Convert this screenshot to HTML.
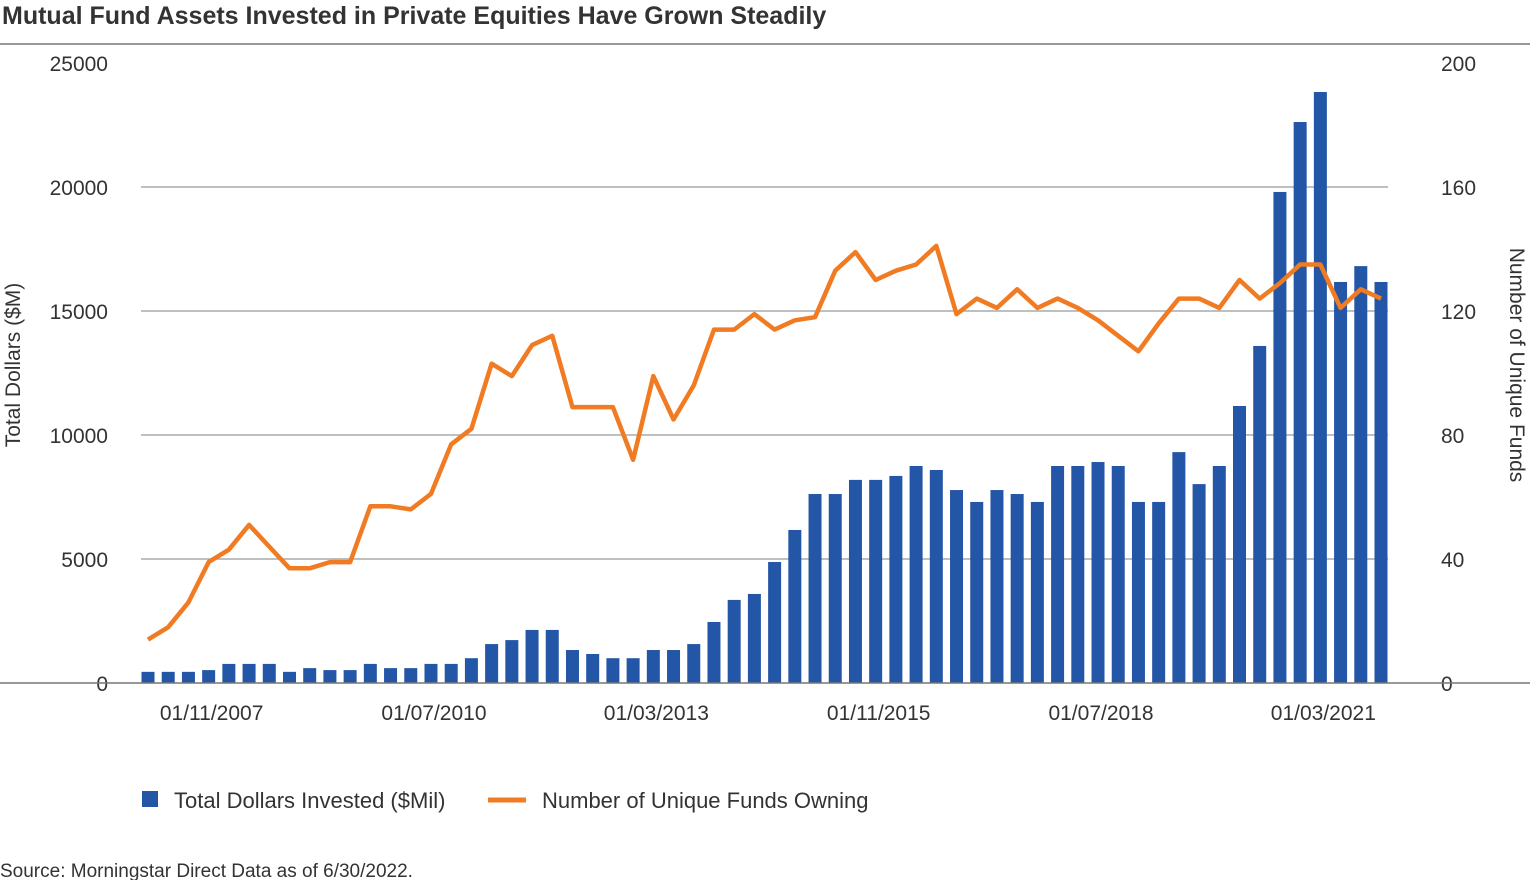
<!DOCTYPE html>
<html><head><meta charset="utf-8"><style>
body{margin:0;background:#fff;font-family:"Liberation Sans Narrow","Liberation Sans",sans-serif;}
svg text{font-family:"Liberation Sans Narrow","Liberation Sans",sans-serif;fill:#333;}
</style></head><body>
<svg width="1530" height="880" xmlns="http://www.w3.org/2000/svg">
<text x="2" y="24" font-size="25" font-weight="bold" fill="#222">Mutual Fund Assets Invested in Private Equities Have Grown Steadily</text>
<line x1="0" y1="44" x2="1530" y2="44" stroke="#777" stroke-width="1.5"/>
<g id="grid"></g><g id="bars"></g><g id="line"></g><g id="axes"></g>
<text transform="translate(20,365) rotate(-90)" text-anchor="middle" font-size="21">Total Dollars ($M)</text>
<text transform="translate(1510,365) rotate(90)" text-anchor="middle" font-size="21">Number of Unique Funds</text>
<rect x="142" y="791" width="16" height="16" fill="#2356a6"/>
<text x="174" y="808" font-size="22">Total Dollars Invested ($Mil)</text>
<line x1="488" y1="800" x2="526" y2="800" stroke="#f07b22" stroke-width="5"/>
<text x="542" y="808" font-size="22">Number of Unique Funds Owning</text>
<text x="0" y="877" font-size="19">Source: Morningstar Direct Data as of 6/30/2022.</text>
</svg>
<script>
const dollars=[450,450,450,520,770,770,770,450,600,520,520,770,600,600,770,770,1000,1570,1730,2140,2140,1330,1170,1000,1000,1330,1330,1570,2460,3350,3590,4880,6170,7620,7620,8190,8190,8350,8750,8590,7780,7300,7780,7620,7300,8750,8750,8910,8750,7300,7300,9310,8020,8750,11170,13590,19800,22620,23830,16170,16810,16170];
const funds=[14,18,26,39,43,51,44,37,37,39,39,57,57,56,61,77,82,103,99,109,112,89,89,89,72,99,85,96,114,114,119,114,117,118,133,139,130,133,135,141,119,124,121,127,121,124,121,117,112,107,116,124,124,121,130,124,129,135,135,121,127,124];
const leftTicks=[0,5000,10000,15000,20000,25000];
const rightTicks=[0,40,80,120,160,200];
const xLabels=["01/11/2007","01/07/2010","01/03/2013","01/11/2015","01/07/2018","01/03/2021"];
const xLabelIdx=[3,14,25,36,47,58];
const NS="http://www.w3.org/2000/svg";
const x0=148,dx=(1381-148)/61,yB=683,yT=63;
const X=i=>x0+i*dx, YL=v=>yB-v/25000*(yB-yT), YR=v=>yB-v/200*(yB-yT);
function mk(t,a,p){const e=document.createElementNS(NS,t);for(const k in a)e.setAttribute(k,a[k]);p.appendChild(e);return e;}
const grid=document.getElementById('grid'),bars=document.getElementById('bars'),lineG=document.getElementById('line'),axes=document.getElementById('axes');
leftTicks.forEach((v,i)=>{
 if(v>0&&v<25000){const g=mk('line',{x1:141,x2:1388,y1:YL(v),y2:YL(v),stroke:'#999','stroke-width':1.2},grid);
 
 }
 const t=mk('text',{x:108,y:YL(v)+8,'text-anchor':'end','font-size':21},axes);t.textContent=v;
 
 
});
rightTicks.forEach(v=>{const t=mk('text',{x:1441,y:YR(v)+8,'font-size':21},axes);t.textContent=v;
 
 });
const base=mk('line',{x1:0,x2:1530,y1:yB,y2:yB,stroke:'#777','stroke-width':1.5},axes);


xLabels.forEach((l,i)=>{const t=mk('text',{x:X(xLabelIdx[i])+3,y:720,'text-anchor':'middle','font-size':21},axes);t.textContent=l;
 
 });
dollars.forEach((v,i)=>{const r=mk('rect',{x:X(i)-6.5,y:YL(v),width:13,height:yB-YL(v),fill:'#2356a6'},bars);
 
 });
const pl=mk('polyline',{points:funds.map((v,i)=>X(i)+','+YR(v)).join(' '),fill:'none',stroke:'#f07b22','stroke-width':4.5,'stroke-linejoin':'round'},lineG);


</script>
</body></html>
